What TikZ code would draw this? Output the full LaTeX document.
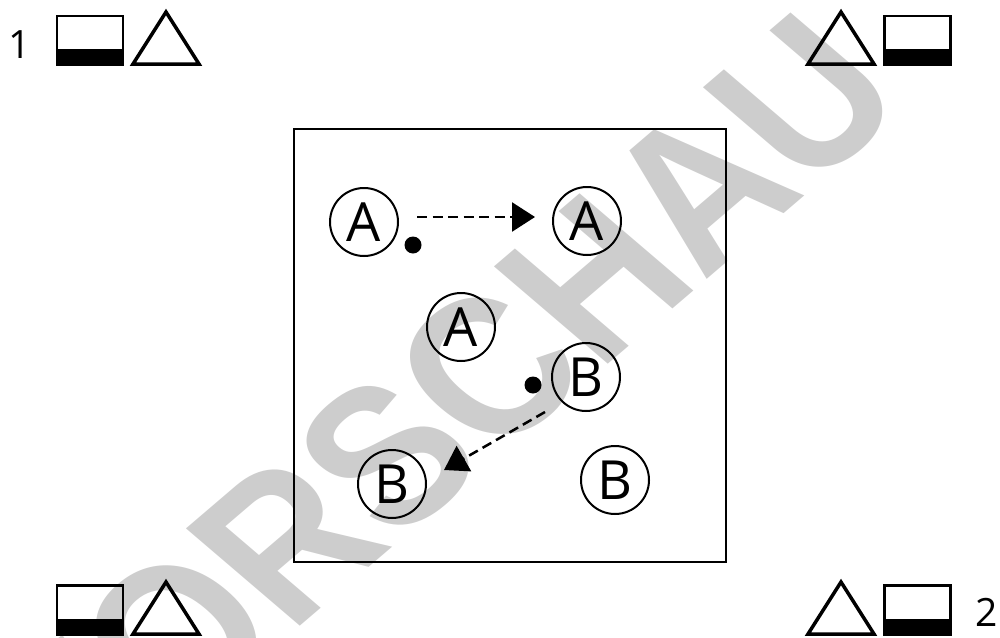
\documentclass[tikz,border=0pt]{standalone}
\usepackage{fontspec}
\setmainfont{Open Sans}
\newfontfamily\wmfont{Liberation Sans}
\usetikzlibrary{arrows.meta}
\definecolor{wm}{RGB}{205,205,205}
\begin{document}
\begin{tikzpicture}[x=1pt,y=-1pt,
  player/.style={circle,draw,line width=2pt,minimum size=68pt,inner sep=0pt,font=\fontsize{54}{54}\selectfont},
  ball/.style={circle,fill,inner sep=0pt,minimum size=17pt},
  run/.style={dash pattern=on 10pt off 5.5pt, line width=2.5pt, -{Triangle[length=23pt,width=29pt]}},
  field/.style={draw,line width=2.5pt},
  goalbox/.style={draw,line width=2.5pt,minimum width=66pt,minimum height=49pt,inner sep=0pt,
     path picture={\fill (path picture bounding box.south west) rectangle ([yshift=16pt]path picture bounding box.south east);}},
  cone/.style={line width=3.5pt,line join=miter},
  num/.style={font=\fontsize{39}{39}\selectfont,inner sep=0pt}]
\useasboundingbox (0,0) rectangle (1000,637);
% watermark
\begin{scope}[shift={(440,410)}]
\node[xscale=1.17,rotate=45,xscale=0.88,text=wm,font=\wmfont\bfseries\fontsize{200}{200}\selectfont,inner sep=0pt] (wm) at (0,0) {VORSCHAU};
\end{scope}
% field
\draw[field] (294,129) rectangle (726,562);
% corner markers
\node[num] (n1) at (20,45) {1};
\node[goalbox] (g1) at (90,40.5) {};
\draw[cone] (133,64) -- (166,12) -- (199,64) -- cycle;
\draw[cone] (808,64) -- (841,12) -- (874,64) -- cycle;
\node[goalbox] (g2) at (917.5,40.5) {};
\node[goalbox] (g3) at (90,610) {};
\draw[cone] (133,634) -- (166,582) -- (199,634) -- cycle;
\draw[cone] (808,634) -- (841,582) -- (874,634) -- cycle;
\node[goalbox] (g4) at (917.5,610) {};
\node[num] (n2) at (987,612) {2};
% players
\node[player] (a1) at (364,222) {A};
\node[player] (a2) at (587,221) {A};
\node[player] (a3) at (461,327) {A};
\node[player] (b1) at (586,377) {B};
\node[player] (b2) at (392,484) {B};
\node[player] (b3) at (615,480) {B};
% balls
\node[ball] (d1) at (413,245) {};
\node[ball] (d2) at (533,385) {};
% runs
\coordinate (r1s) at (417,217);
\coordinate (r1e) at (535,217);
\coordinate (r2s) at (545,412);
\coordinate (r2e) at (444,470);
\draw[run] (r1s) -- (r1e);
\draw[run] (r2s) -- (r2e);
\end{tikzpicture}
\end{document}
